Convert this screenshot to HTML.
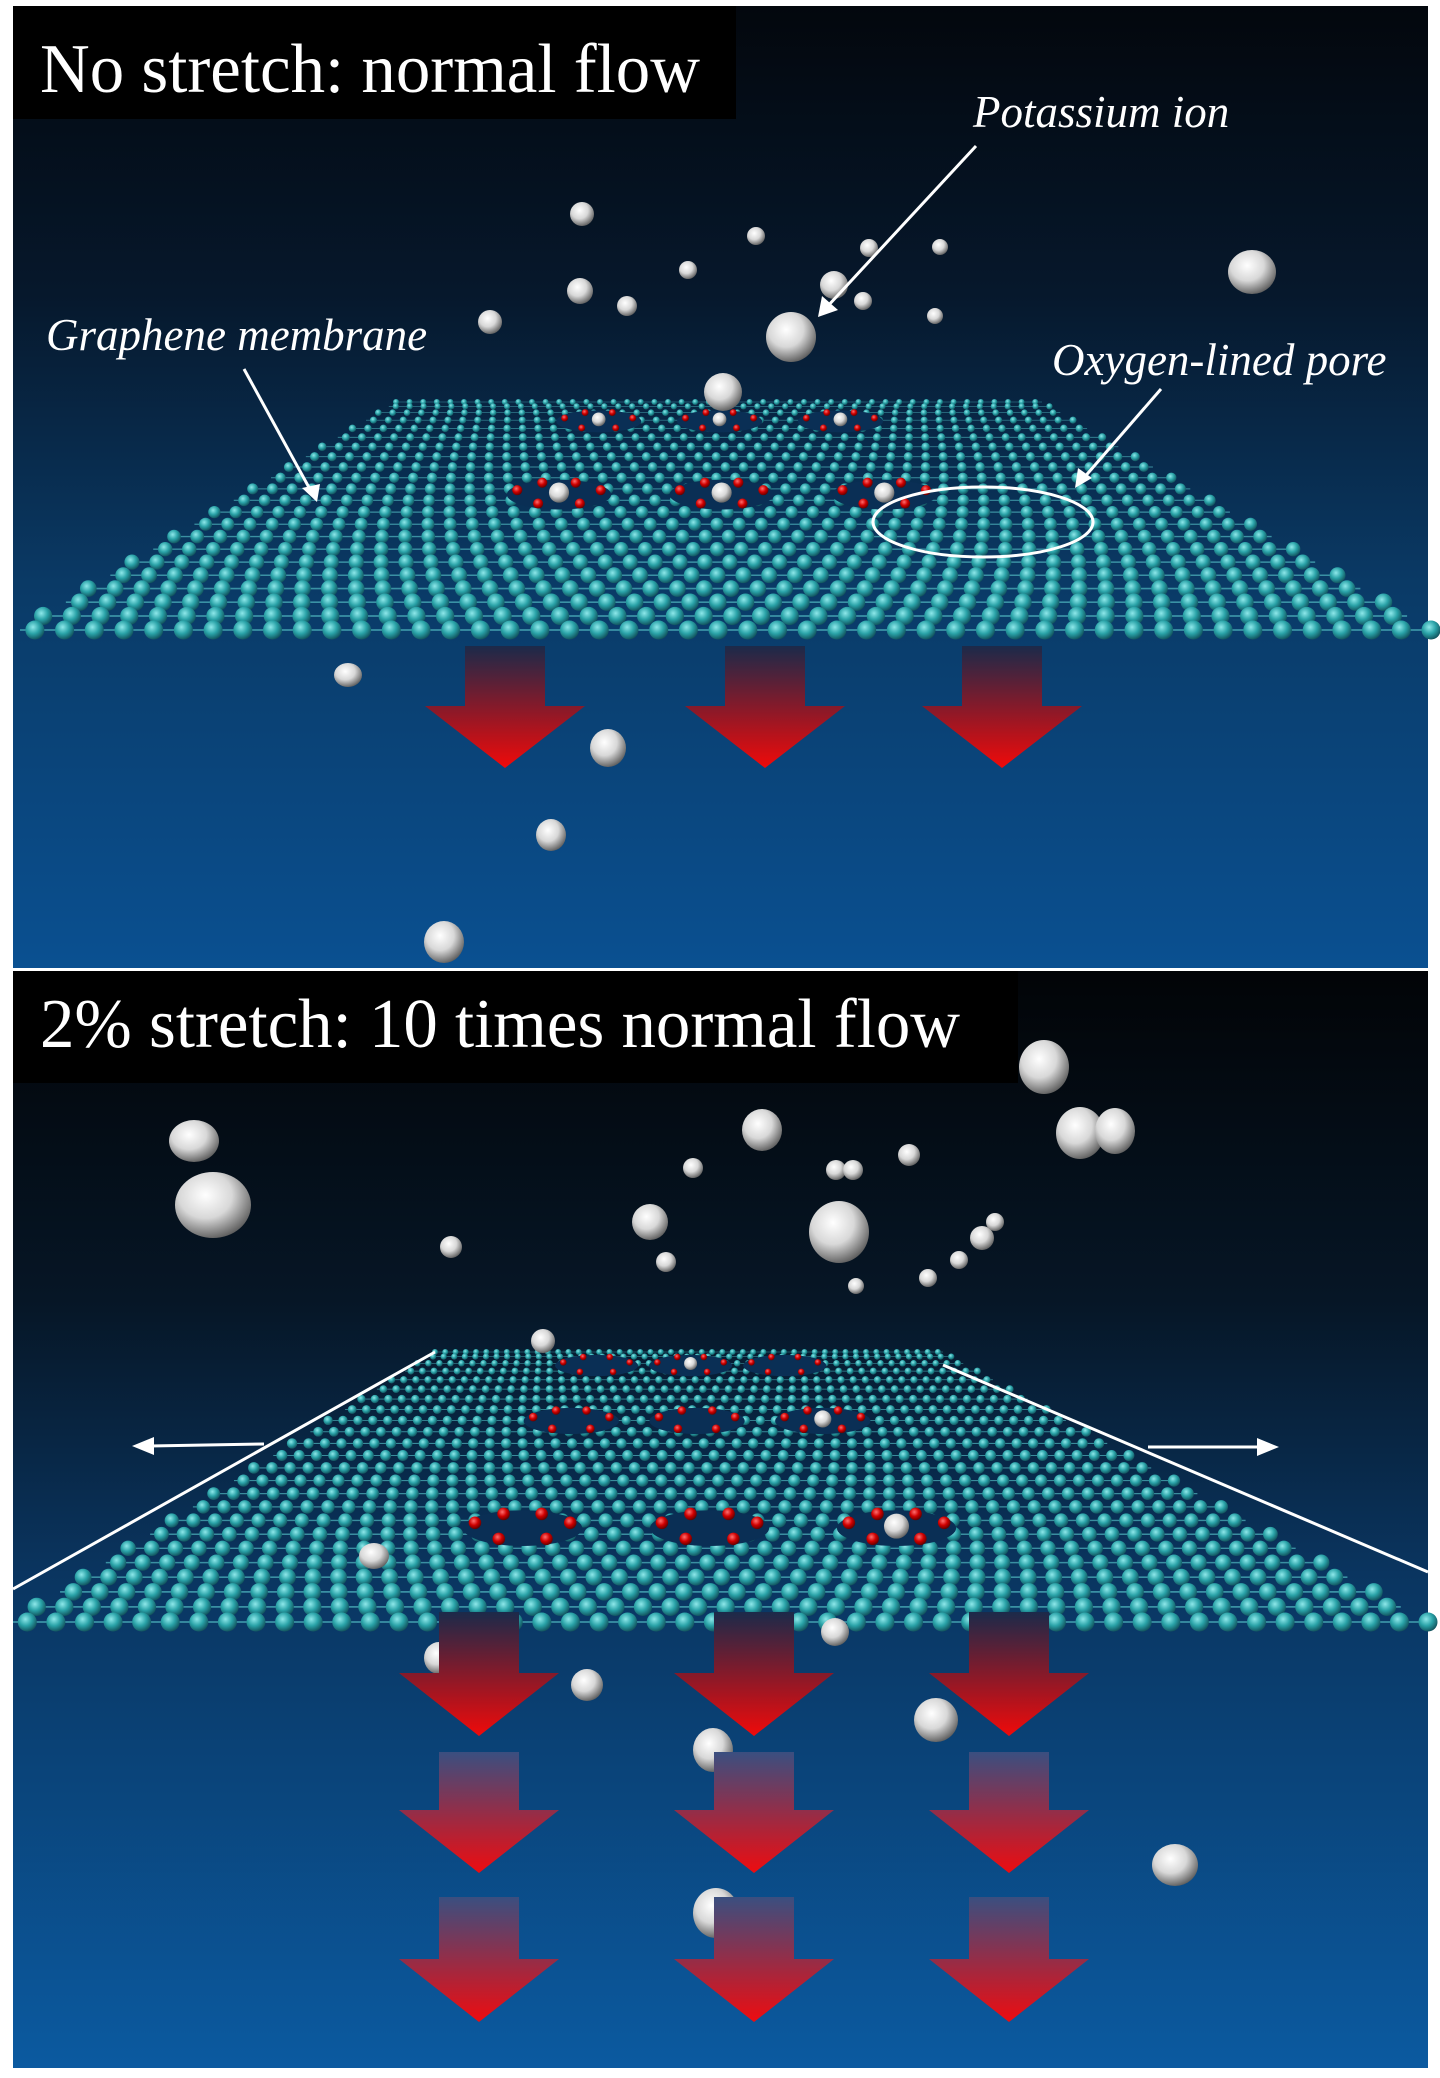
<!DOCTYPE html>
<html><head><meta charset="utf-8"><style>
html,body{margin:0;padding:0;background:#fff}
svg{display:block}
text{font-family:"Liberation Serif",serif;fill:#fff}
</style></head><body>
<svg id="s" width="1440" height="2078" viewBox="0 0 1440 2078" xmlns="http://www.w3.org/2000/svg">
<defs>
<linearGradient id="bg1" x1="0" y1="0" x2="0" y2="1">
<stop offset="0" stop-color="#03070d"/><stop offset="0.3" stop-color="#06182c"/><stop offset="0.6" stop-color="#0a3a66"/><stop offset="1" stop-color="#0a5091"/></linearGradient>
<linearGradient id="bg2" x1="0" y1="0" x2="0" y2="1">
<stop offset="0" stop-color="#020407"/><stop offset="0.3" stop-color="#061626"/><stop offset="0.55" stop-color="#0a3560"/><stop offset="1" stop-color="#0b5aa0"/></linearGradient>
<linearGradient id="ar" x1="0" y1="0" x2="0" y2="1">
<stop offset="0" stop-color="#1b2a4a"/><stop offset="1" stop-color="#f00a0a"/></linearGradient>
<linearGradient id="ar2" x1="0" y1="0" x2="0" y2="1">
<stop offset="0" stop-color="#3a4f80"/><stop offset="1" stop-color="#ee0c10"/></linearGradient>
<radialGradient id="ball" cx="0.4" cy="0.35" r="0.7"><stop offset="0" stop-color="#fff"/><stop offset="0.5" stop-color="#d8d8d8"/><stop offset="1" stop-color="#555"/></radialGradient>
<radialGradient id="c" cx="0.4" cy="0.35" r="0.7"><stop offset="0" stop-color="#8ee8ea"/><stop offset="0.5" stop-color="#2aa3a8"/><stop offset="1" stop-color="#0f4a55"/></radialGradient>
<radialGradient id="o" cx="0.4" cy="0.35" r="0.7"><stop offset="0" stop-color="#ff7070"/><stop offset="0.5" stop-color="#d00000"/><stop offset="1" stop-color="#500"/></radialGradient>
</defs>
<rect x="13" y="6" width="1415" height="962" fill="url(#bg1)"/>
<rect x="13" y="971" width="1415" height="1097" fill="url(#bg2)"/>
<g id="m1"></g><g id="m2"></g><g id="balls"></g>
<g id="arrows"></g>
<rect x="13" y="6" width="723" height="113" fill="#000"/>
<text x="40" y="92" font-size="70" textLength="660" lengthAdjust="spacingAndGlyphs">No stretch: normal flow</text>
<rect x="13" y="971" width="1005" height="112" fill="#000"/>
<text x="40" y="1047" font-size="70" textLength="920" lengthAdjust="spacingAndGlyphs">2% stretch: 10 times normal flow</text>
<g font-style="italic" font-size="45">
<text x="973" y="127">Potassium ion</text>
<text x="46" y="350">Graphene membrane</text>
<text x="1052" y="375">Oxygen-lined pore</text>
</g>
<g stroke="#fff" stroke-width="3" fill="none">
<line x1="976" y1="146" x2="826" y2="308"/>
<line x1="244" y1="369" x2="312" y2="493"/>
<line x1="1161" y1="389" x2="1082" y2="480"/>
<ellipse cx="983" cy="522" rx="110" ry="35"/>
<line x1="435" y1="1352" x2="13" y2="1589"/>
<line x1="943" y1="1365" x2="1428" y2="1572"/>
<line x1="264" y1="1444" x2="150" y2="1446"/>
<line x1="1148" y1="1447" x2="1262" y2="1447"/>
</g>
<g fill="#fff">
<polygon points="818,317 822,296 838,310"/>
<polygon points="317,502 302,488 320,484"/>
<polygon points="1075,488 1078,468 1092,478"/>
<polygon points="132,1446 154,1437 154,1455"/>
<polygon points="1279,1447 1257,1438 1257,1456"/>
</g>
</svg>
<script>
var NS="http://www.w3.org/2000/svg";
function el(p,t,a){var e=document.createElementNS(NS,t);for(var k in a)e.setAttribute(k,a[k]);p.appendChild(e);return e;}
function mem(g,fy,fx1,fx2,ny,nx1,nx2,rows,cols,pores){
 for(var r=0;r<rows;r++){
  var t=r/(rows-1), tt=Math.pow(t,1.3);
  var y=fy+(ny-fy)*tt, x1=fx1+(nx1-fx1)*tt, x2=fx2+(nx2-fx2)*tt;
  var rad=3+6.5*tt;
  el(g,"line",{x1:x1,y1:y,x2:x2,y2:y,stroke:"#4fb7c0","stroke-width":0.6+1.2*tt,opacity:0.7});
  for(var c=0;c<cols;c++){
   var u=(c+(r%2?0.5:0))/(cols-0.5);
   var x=x1+(x2-x1)*u;
   el(g,"circle",{cx:x,cy:y,r:rad,fill:"url(#c)"});
  }
 }
 pores.forEach(function(p){
  var tt=Math.pow(p[2],1.3), y=fy+(ny-fy)*tt, x1=fx1+(nx1-fx1)*tt, x2=fx2+(nx2-fx2)*tt;
  var x=x1+(x2-x1)*p[0], rad=3+5*tt, w=40+30*tt, h=10+12*tt;
  el(g,"ellipse",{cx:x,cy:y,rx:w,ry:h,fill:"#0a2f55"});
  [[-1,-0.3],[-0.5,0.6],[0.5,0.6],[1,-0.3],[-0.4,-0.8],[0.4,-0.8]].forEach(function(d){
   el(g,"circle",{cx:x+d[0]*w*0.8,cy:y+d[1]*h,r:rad,fill:"url(#o)"});});
  if(p[1]) el(g,"circle",{cx:x,cy:y-2,r:rad*2,fill:"url(#ball)"});
 });
}
mem(document.getElementById("m1"),402,396,1042,630,20,1431,22,48,
 [[0.33,1,0.15],[0.5,1,0.15],[0.67,1,0.15],[0.33,1,0.5],[0.5,1,0.5],[0.67,1,0.5]]);
mem(document.getElementById("m2"),1352,435,943,1622,13,1428,24,50,
 [[0.33,0,0.1],[0.5,1,0.1],[0.67,0,0.1],[0.33,0,0.35],[0.5,0,0.35],[0.67,1,0.35],[0.33,0,0.72],[0.5,0,0.72],[0.67,1,0.72]]);
var B=[[791,337,25,25],[1252,272,24,22],[723,392,19,19],[582,214,12,12],[580,291,13,13],[834,285,14,14],[627,306,10,10],[490,322,12,12],[863,301,9,9],[935,316,8,8],[869,248,9,9],[756,236,9,9],[940,247,8,8],[688,270,9,9],[348,675,14,12],[608,748,18,19],[551,835,15,16],[444,942,20,21],
[1044,1067,25,27],[1080,1133,24,26],[1115,1131,20,23],[762,1130,20,21],[839,1232,30,31],[213,1205,38,33],[194,1141,25,21],[650,1222,18,18],[693,1168,10,10],[836,1170,10,10],[853,1170,10,10],[909,1155,11,11],[982,1238,12,12],[995,1222,9,9],[451,1247,11,11],[666,1262,10,10],[928,1278,9,9],[959,1260,9,9],[856,1286,8,8],[543,1341,12,12],[936,1720,22,22],[1175,1865,23,21],[716,1913,23,25],[587,1685,16,16],[439,1658,15,16],[835,1632,14,14],[713,1750,20,22],[374,1556,15,13]];
var bg=document.getElementById("balls");
B.forEach(function(b){el(bg,"ellipse",{cx:b[0],cy:b[1],rx:b[2],ry:b[3],fill:"url(#ball)"});});
var ag=document.getElementById("arrows");
function A(cx,t,h,tip,g){var p=[[cx-40,t],[cx+40,t],[cx+40,h],[cx+80,h],[cx,tip],[cx-80,h],[cx-40,h]];el(ag,"polygon",{points:p.map(function(q){return q.join(",")}).join(" "),fill:"url(#"+g+")"});}
[505,765,1002].forEach(function(x){A(x,646,706,768,"ar");});
[[1612,1673,1736,"ar"],[1752,1810,1873,"ar2"],[1897,1959,2022,"ar2"]].forEach(function(r){[479,754,1009].forEach(function(x){A(x,r[0],r[1],r[2],r[3]);});});
</script>
</body></html>
